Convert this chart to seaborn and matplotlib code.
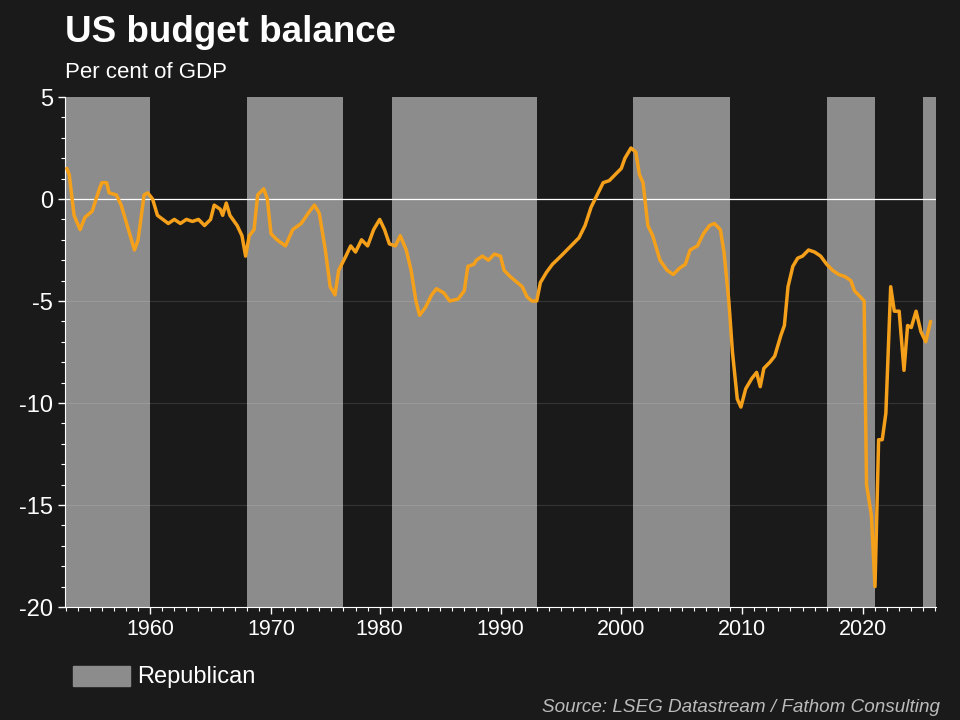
import matplotlib
matplotlib.use("Agg")
import matplotlib.pyplot as plt
import matplotlib.patches as mpatches
from matplotlib.ticker import MultipleLocator, FuncFormatter
import seaborn as sns
import pandas as pd

# budget balance, % of GDP
years = [1954.1, 1954.3, 1954.7, 1955.2, 1955.6, 1956.2, 1956.8, 1957.0, 1957.4, 1957.6,
         1958.2, 1958.6, 1959.2, 1959.7, 1960.0, 1960.5, 1960.8, 1961.2, 1961.6, 1962.5,
         1963.0, 1963.5, 1964.0, 1964.5, 1965.0, 1965.5, 1966.0, 1966.3, 1966.8, 1967.0,
         1967.3, 1967.6, 1968.2, 1968.6, 1968.9, 1969.2, 1969.6, 1969.9, 1970.4, 1970.7,
         1971.0, 1971.5, 1972.2, 1972.8, 1973.5, 1974.2, 1974.6, 1975.0, 1975.5, 1975.9,
         1976.3, 1976.6, 1977.2, 1977.6, 1978.0, 1978.5, 1979.0, 1979.5, 1980.0, 1980.4,
         1980.8, 1981.3, 1981.7, 1982.2, 1982.6, 1983.0, 1983.3, 1983.8, 1984.3, 1984.7,
         1985.3, 1985.8, 1986.5, 1987.0, 1987.3, 1987.8, 1988.0, 1988.5, 1989.0, 1989.5,
         1990.0, 1990.3, 1990.8, 1991.2, 1991.8, 1992.2, 1992.6, 1993.0, 1993.3, 1993.8,
         1994.3, 1995.0, 1995.5, 1996.0, 1996.5, 1997.0, 1997.5, 1998.0, 1998.5, 1999.0,
         1999.5, 2000.0, 2000.3, 2000.8, 2001.2, 2001.5, 2001.8, 2002.2, 2002.6, 2003.2,
         2003.8, 2004.3, 2004.8, 2005.3, 2005.7, 2006.3, 2006.8, 2007.3, 2007.7, 2008.2,
         2008.5, 2008.9, 2009.2, 2009.6, 2009.9, 2010.3, 2010.8, 2011.2, 2011.5, 2011.8,
         2012.3, 2012.7, 2013.2, 2013.5, 2013.8, 2014.2, 2014.6, 2015.0, 2015.5, 2016.0,
         2016.5, 2017.0, 2017.5, 2018.0, 2018.5, 2019.0, 2019.3, 2019.8, 2020.1, 2020.3,
         2020.7, 2021.0, 2021.3, 2021.6, 2021.9, 2022.3, 2022.6, 2023.0, 2023.4, 2023.7,
         2024.0, 2024.4, 2024.8, 2025.2, 2025.6]
balance = [1.5, 1.2, -0.8, -1.5, -0.9, -0.6, 0.5, 0.8, 0.8, 0.3,
           0.2, -0.3, -1.5, -2.5, -2.0, 0.2, 0.3, 0.0, -0.8, -1.2,
           -1.0, -1.2, -1.0, -1.1, -1.0, -1.3, -1.0, -0.3, -0.5, -0.8,
           -0.2, -0.8, -1.3, -1.8, -2.8, -1.8, -1.5, 0.2, 0.5, 0.0,
           -1.7, -2.0, -2.3, -1.5, -1.2, -0.6, -0.3, -0.7, -2.5, -4.3,
           -4.7, -3.5, -2.8, -2.3, -2.6, -2.0, -2.3, -1.5, -1.0, -1.5,
           -2.2, -2.3, -1.8, -2.5, -3.5, -5.0, -5.7, -5.3, -4.7, -4.4,
           -4.6, -5.0, -4.9, -4.5, -3.3, -3.2, -3.0, -2.8, -3.0, -2.7,
           -2.8, -3.5, -3.8, -4.0, -4.3, -4.8, -5.0, -5.0, -4.1, -3.6,
           -3.2, -2.8, -2.5, -2.2, -1.9, -1.3, -0.4, 0.2, 0.8, 0.9,
           1.2, 1.5, 2.0, 2.5, 2.3, 1.2, 0.8, -1.3, -1.8, -3.0,
           -3.5, -3.7, -3.4, -3.2, -2.5, -2.3, -1.7, -1.3, -1.2, -1.5,
           -2.6, -5.0, -7.5, -9.8, -10.2, -9.3, -8.8, -8.5, -9.2, -8.3,
           -8.0, -7.7, -6.7, -6.2, -4.3, -3.3, -2.9, -2.8, -2.5, -2.6,
           -2.8, -3.2, -3.5, -3.7, -3.8, -4.0, -4.5, -4.8, -5.0, -14.0,
           -15.5, -19.0, -11.8, -11.8, -10.5, -4.3, -5.5, -5.5, -8.4, -6.2,
           -6.3, -5.5, -6.5, -7.0, -6.0]

# Republican presidencies
rep_start = [1953, 1969, 1981, 2001, 2017, 2025]
rep_end = [1961, 1977, 1993, 2009, 2021, 2027]

bg = "#1a1a1a"
sns.set_theme(style="dark")
plt.rcParams["font.family"] = ["Liberation Sans", "DejaVu Sans"]

fig = plt.figure(figsize=(9.6, 7.2), dpi=100, facecolor=bg)
ax = fig.add_axes([65 / 960, 1 - 607 / 720, (936 - 65) / 960, (607 - 97) / 720])
ax.set_facecolor(bg)

for s, e in zip(rep_start, rep_end):
    ax.axvspan(s, e, color="#8c8c8c", lw=0, zorder=0)
for y in [-5, -10, -15]:
    ax.axhline(y, color="#ffffff", alpha=0.12, lw=0.8, zorder=1)
ax.axhline(0, color="white", lw=0.9, zorder=2)

df = pd.DataFrame({"year": years, "balance": balance})
sns.lineplot(data=df, x="year", y="balance", ax=ax, color="#f5a01a", lw=2.5, zorder=3)

ax.set_xlim(1953.95, 2026.05)
ax.set_ylim(-20, 5)
ax.set_xlabel("")
ax.set_ylabel("")
ax.xaxis.set_minor_locator(MultipleLocator(1))
ax.yaxis.set_major_locator(MultipleLocator(5))
ax.yaxis.set_minor_locator(MultipleLocator(1))
ax.yaxis.set_major_formatter(FuncFormatter(lambda v, p: f"{v:.0f}"))
ax.tick_params(axis="both", which="both", colors="white", labelsize=15.5, left=True, bottom=True)
ax.tick_params(axis="y", labelsize=17)
ax.tick_params(which="major", length=5, width=1)
ax.tick_params(which="minor", length=3, width=0.8)
ax.set_xticks([1961, 1971, 1980, 1990, 2000, 2010, 2020])
ax.set_xticklabels(["1960", "1970", "1980", "1990", "2000", "2010", "2020"])
for sp in ["top", "right"]:
    ax.spines[sp].set_visible(False)
for sp in ["left", "bottom"]:
    ax.spines[sp].set_color("white")
    ax.spines[sp].set_linewidth(0.8)

fig.text(65 / 960, 1 - 33 / 720, "US budget balance", color="white", fontsize=26.5,
         fontweight="bold", va="center")
fig.text(65 / 960, 1 - 73 / 720, "Per cent of GDP", color="white", fontsize=16, va="center")

fig.patches.append(mpatches.Rectangle((73 / 960, 1 - 686 / 720), 57 / 960, 20 / 720,
                                      transform=fig.transFigure, color="#8c8c8c"))
fig.text(137 / 960, 1 - 677 / 720, "Republican", color="white", fontsize=17, va="center")
fig.text(940 / 960, 1 - 707 / 720, "Source: LSEG Datastream / Fathom Consulting",
         color="#bbbbbb", fontsize=13.6, style="italic", ha="right", va="center")

fig.savefig("out.png", dpi=100, facecolor=bg)
